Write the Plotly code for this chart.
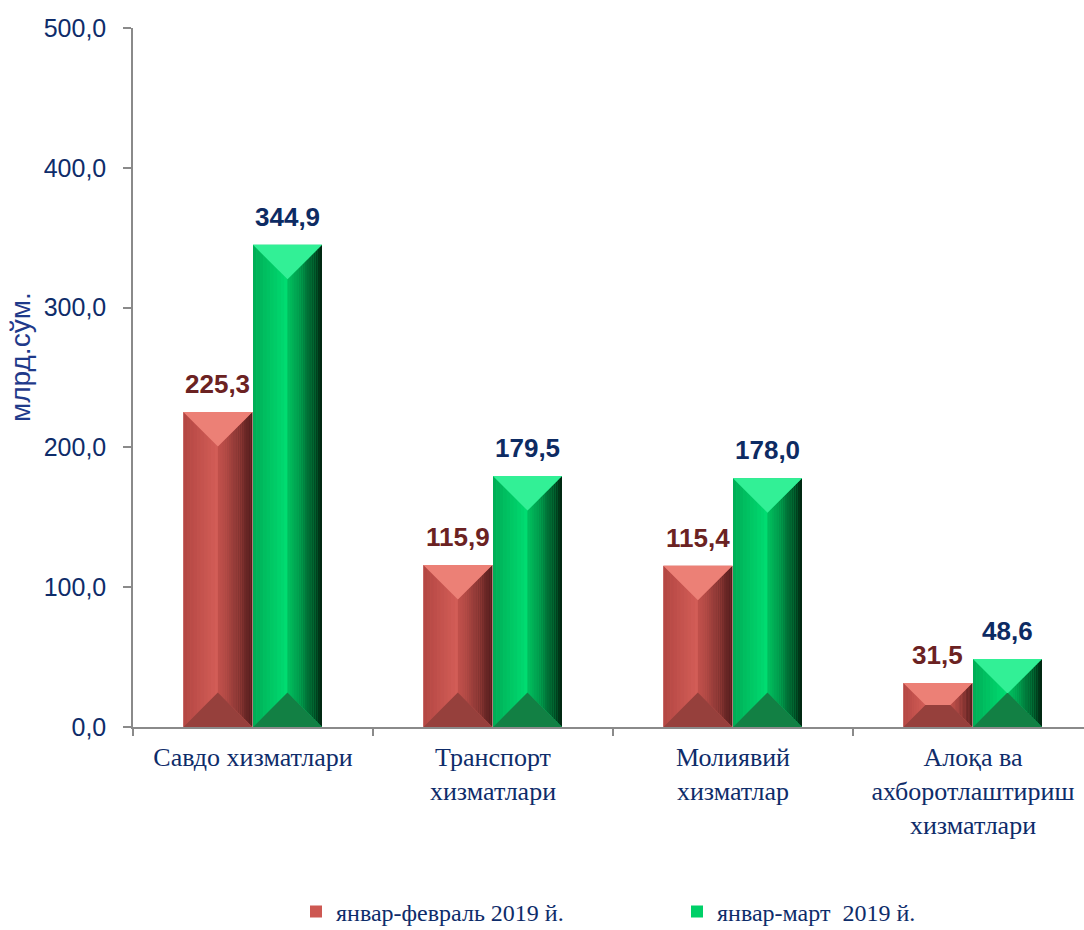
import plotly.graph_objects as go

# ---------------- data ----------------
categories = ["Савдо хизматлари", "Транспорт<br>хизматлари", "Молиявий<br>хизматлар",
              "Алоқа ва<br>ахборотлаштириш<br>хизматлари"]
series_names = ["январ-февраль 2019 й.", "январ-март\u00a0 2019 й."]
jan_feb = [225.3, 115.9, 115.4, 31.5]
jan_mar = [344.9, 179.5, 178.0, 48.6]
y_ticks = [0, 100, 200, 300, 400, 500]
y_title = "млрд.сўм."

# ---------------- layout constants ----------------
W, H = 1084, 930
ML, MR, MT, MB = 133, 0, 28, 203
PW, PH = W - ML - MR, H - MT - MB
PX_X = 240.0                      # pixels per category
PX_Y = PH / 500.0                 # pixels per value unit
XR = [-0.5, -0.5 + PW / PX_X]
BAR_W = 0.2875
OFFSETS = [-0.29, 0.0]

NAVY = "#0E2C6A"
AXIS = "#8A8A8A"

palettes = [
    dict(base="rgb(205,88,82)", left0=(178, 70, 66), left1=(212, 94, 88),
         right0=(192, 80, 75), right1=(78, 26, 26), top="rgb(236,128,118)",
         bottom="rgb(150,64,60)", label="#6B2222"),
    dict(base="rgb(0,208,104)", left0=(0, 172, 86), left1=(0, 222, 114),
         right0=(0, 190, 94), right1=(0, 34, 14), top="rgb(50,240,150)",
         bottom="rgb(18,128,68)", label="#0D2B63"),
]

fig = go.Figure()
series = [jan_feb, jan_mar]
for s, vals in enumerate(series):
    fig.add_trace(go.Bar(
        x=list(range(len(categories))), y=vals, width=BAR_W, offset=OFFSETS[s],
        name=series_names[s],
        marker=dict(color=palettes[s]["base"], line=dict(width=0)),
        hoverinfo="skip",
    ))


def mix(c0, c1, t):
    return "rgb(%d,%d,%d)" % tuple(round(a + (b - a) * t) for a, b in zip(c0, c1))


def poly(pts):
    return "M " + " L ".join(f"{x:.5f},{y:.5f}" for x, y in pts) + " Z"


shapes = []
for s, vals in enumerate(series):
    p = palettes[s]
    for i, h in enumerate(vals):
        x0 = i + OFFSETS[s]
        x1 = x0 + BAR_W
        d_px = min(BAR_W * PX_X / 2, h * PX_Y / 2)
        dx, dy = d_px / PX_X, d_px / PX_Y

        def yb_left(x):
            return (x - x0) / dx * dy

        def yb_right(x):
            return (x1 - x) / dx * dy

        # left facet gradient strips
        n = 10
        for k in range(n):
            a = x0 + dx * k / n
            b = x0 + dx * (k + 1) / n + 0.0005
            shapes.append(dict(type="path", xref="x", yref="y", layer="above",
                               path=poly([(a, yb_left(a)), (b, yb_left(b)),
                                          (b, h - yb_left(b)), (a, h - yb_left(a))]),
                               fillcolor=mix(p["left0"], p["left1"], (k + 0.5) / n),
                               line=dict(width=0)))
        # right facet gradient strips
        n = 16
        for k in range(n):
            a = x1 - dx + dx * k / n
            b = min(x1, x1 - dx + dx * (k + 1) / n + 0.0005)
            shapes.append(dict(type="path", xref="x", yref="y", layer="above",
                               path=poly([(a, yb_right(a)), (b, yb_right(b)),
                                          (b, h - yb_right(b)), (a, h - yb_right(a))]),
                               fillcolor=mix(p["right0"], p["right1"], ((k + 0.5) / n) ** 1.3),
                               line=dict(width=0)))
        # top facet
        shapes.append(dict(type="path", xref="x", yref="y", layer="above",
                           path=poly([(x0, h), (x1, h), (x1 - dx, h - dy), (x0 + dx, h - dy)]),
                           fillcolor=p["top"], line=dict(width=0)))
        # bottom facet
        shapes.append(dict(type="path", xref="x", yref="y", layer="above",
                           path=poly([(x0, 0), (x1, 0), (x1 - dx, dy), (x0 + dx, dy)]),
                           fillcolor=p["bottom"], line=dict(width=0)))

annotations = []
for s, vals in enumerate(series):
    for i, h in enumerate(vals):
        annotations.append(dict(
            x=i + OFFSETS[s] + BAR_W / 2, y=h, xref="x", yref="y",
            text=f"{h:.1f}".replace(".", ","), showarrow=False,
            yanchor="middle", yshift=28,
            font=dict(family="Liberation Sans, Arial", size=26,
                      color=palettes[s]["label"], weight="bold"),
        ))

annotations.append(dict(
    x=(20 - ML) / PW, y=(PH + MT - 357) / PH, xref="paper", yref="paper",
    text=y_title, textangle=-90, showarrow=False, xanchor="center", yanchor="middle",
    font=dict(family="Liberation Sans, Arial", size=28, color="#1F3A8A"),
))

fig.update_layout(
    width=W, height=H,
    margin=dict(l=ML, r=MR, t=MT, b=MB, autoexpand=False),
    paper_bgcolor="white", plot_bgcolor="white",
    barmode="overlay",
    shapes=shapes, annotations=annotations,
    showlegend=True,
    legend=dict(orientation="h", x=(296 - ML) / PW, xanchor="left",
                y=(PH + MT - 912) / PH, yanchor="middle",
                font=dict(family="Liberation Serif, Times New Roman", size=24, color=NAVY),
                entrywidth=336, entrywidthmode="pixels", bgcolor="rgba(0,0,0,0)",
                traceorder="normal"),
    xaxis=dict(range=XR, tickvals=list(range(len(categories))), ticktext=categories,
               ticks="", showline=True, linecolor=AXIS, linewidth=1.5,
               showgrid=False, zeroline=False, automargin=False,
               tickfont=dict(family="Liberation Serif, Times New Roman", size=26, color=NAVY),
               ticklabelstandoff=6,
               minor=dict(tickvals=[k - 0.5 for k in range(len(categories) + 1)],
                          ticks="outside", ticklen=7, tickcolor=AXIS, tickwidth=1.5,
                          showgrid=False)),
    yaxis=dict(range=[0, 500], tickvals=y_ticks,
               ticktext=[f"{v:.1f}".replace(".", ",") for v in y_ticks],
               ticks="outside", ticklen=8, tickcolor=AXIS, tickwidth=1.5,
               showline=True, linecolor=AXIS, linewidth=1.5,
               showgrid=False, zeroline=False, automargin=False,
               ticklabelstandoff=12,
               tickfont=dict(family="Liberation Sans, Arial", size=25, color=NAVY)),
)

fig.write_html("out.html", config={"displayModeBar": False},
               post_script="document.body.style.margin='0';document.body.style.overflow='hidden';")
